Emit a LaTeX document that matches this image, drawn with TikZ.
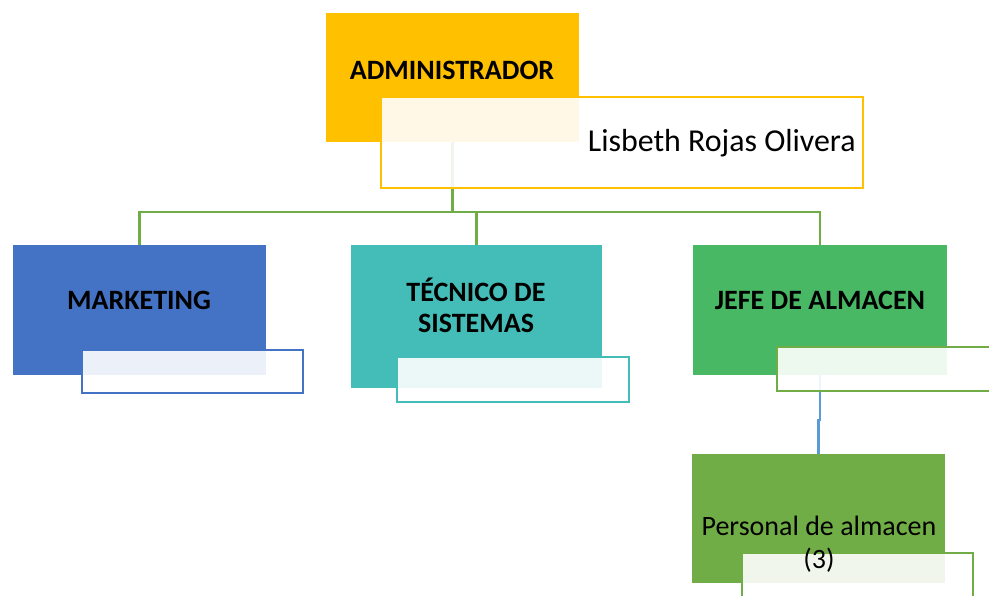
\documentclass[tikz,border=0pt]{standalone}
\usepackage{fontspec}
\setmainfont{Carlito}
\definecolor{cOrange}{HTML}{FFC000}
\definecolor{cBlue}{HTML}{4472C4}
\definecolor{cTeal}{HTML}{44BDB8}
\definecolor{cJefe}{HTML}{48B865}
\definecolor{cPers}{HTML}{70AD47}
\definecolor{cLine}{HTML}{70AD47}
\definecolor{cLink}{HTML}{5B9BD5}
\begin{document}
\begin{tikzpicture}[x=1pt,y=-1pt,
  mainbox/.style={rectangle, inner sep=0pt, outer sep=0pt, draw=none},
  subbox/.style={rectangle, inner sep=0pt, outer sep=0pt, line width=2.5pt, fill=white, fill opacity=0.9},
  lbl/.style={inner sep=0pt, text=black, font=\fontsize{28}{31}\selectfont\bfseries, align=center},
  conn/.style={draw=cLine, line width=2.5pt},
  link/.style={draw=cLink, line width=2.5pt}]
\useasboundingbox (0,0) rectangle (989,596);
% main boxes
\node[mainbox, fill=cOrange, minimum width=253pt, minimum height=129pt] (admin) at (452.5,77.5) {};
\node[mainbox, fill=cBlue, minimum width=253pt, minimum height=130pt] (mk) at (139.5,310) {};
\node[mainbox, fill=cTeal, minimum width=251pt, minimum height=143pt] (ts) at (476.5,316.5) {};
\node[mainbox, fill=cJefe, minimum width=254pt, minimum height=130pt] (ja) at (820,310) {};
\node[mainbox, fill=cPers, minimum width=253pt, minimum height=129pt] (pa) at (818.5,518.5) {};
% connectors (drawn behind the sub boxes)
\coordinate (bus) at (452.5,212);
\draw[conn] (admin.south) -- (bus);
\draw[conn] (bus) -| (mk.north);
\draw[conn] (bus) -| (ts.north);
\draw[conn] (bus) -| (ja.north);
\draw[link] (ja.south) -- ++(0,45) -| (pa.north);
% sub boxes
\node[subbox, draw=cOrange, minimum width=482pt, minimum height=91pt] (name) at (622,142.5) {};
\node[subbox, draw=cBlue, minimum width=221pt, minimum height=43pt] (mksub) at (192.5,371.5) {};
\node[subbox, draw=cTeal, minimum width=232pt, minimum height=45pt] (tssub) at (513,379.5) {};
\node[subbox, draw=cPers, minimum width=215pt, minimum height=44pt] (jasub) at (884.5,369) {};
\node[subbox, draw=cPers, minimum width=231pt, minimum height=57pt] (pasub) at (857.5,581.5) {};
% texts
\node[lbl] (tadmin) at (452,70) {ADMINISTRADOR};
\node[inner sep=0pt, anchor=east, font=\fontsize{31.9}{36}\selectfont] (tname) at (856,143) {Lisbeth Rojas Olivera};
\node[lbl] (tmk) at (139,300) {MARKETING};
\node[lbl] (tts) at (476,305) {TÉCNICO DE\\SISTEMAS};
\node[lbl] (tja) at (820,300) {JEFE DE ALMACEN};
\node[inner sep=0pt, align=center, font=\fontsize{28}{33}\selectfont] (tpa) at (819,544) {Personal de almacen\\(3)};
\end{tikzpicture}
\end{document}
